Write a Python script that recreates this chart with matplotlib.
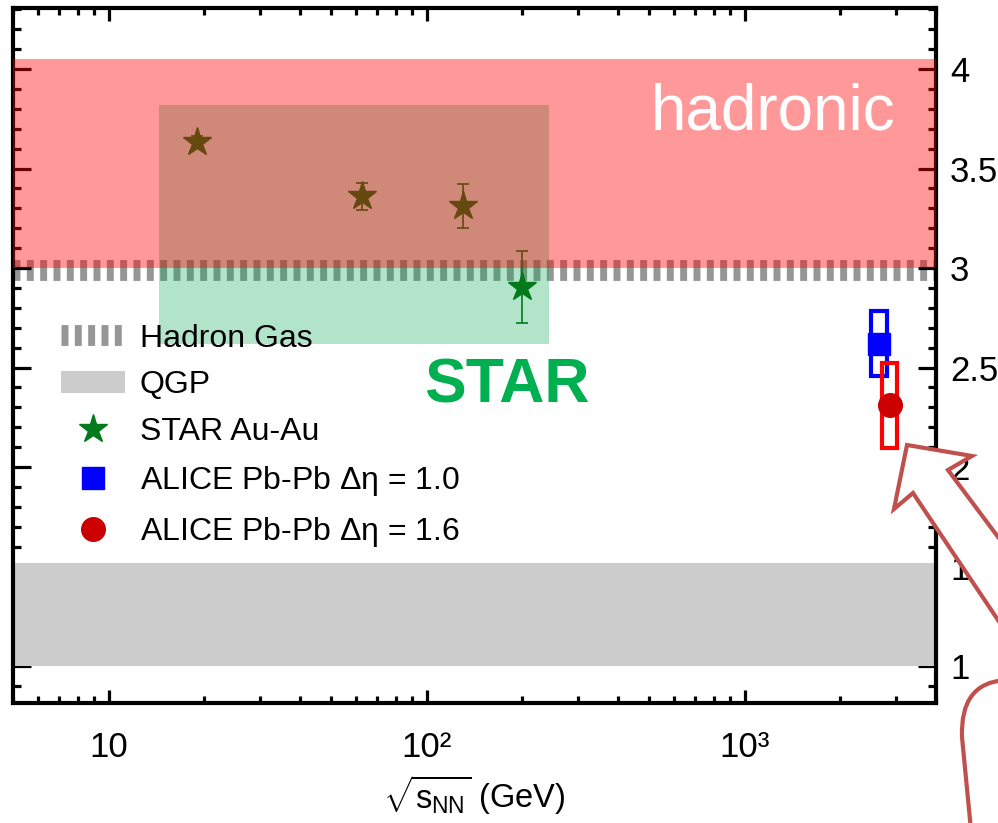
import numpy as np
import matplotlib
matplotlib.use('Agg')
import matplotlib.pyplot as plt
from matplotlib.patches import Rectangle, Polygon, PathPatch, Patch
from matplotlib.lines import Line2D
from matplotlib.path import Path
from matplotlib.ticker import FixedLocator, FixedFormatter, LogLocator, MultipleLocator, FuncFormatter, NullFormatter

plt.rcParams['font.family'] = ['Liberation Sans', 'DejaVu Sans']
plt.rcParams['mathtext.fontset'] = 'custom'
plt.rcParams['mathtext.rm'] = 'Liberation Sans'
plt.rcParams['mathtext.it'] = 'Liberation Sans'
plt.rcParams['mathtext.bf'] = 'Liberation Sans:bold'
plt.rcParams['lines.scale_dashes'] = False

# STAR Au-Au points
star_energy = [19.0, 62.4, 130, 200]
star_value = [3.635, 3.36, 3.31, 2.905]
star_err = [0.03, 0.067, 0.11, 0.183]

# ALICE Pb-Pb at 2.76 TeV (the two points are drawn slightly apart)
alice_energy = [2650, 2860]
alice_value = [2.62, 2.31]
alice_sys = [0.165, 0.215]
alice_labels = [r'ALICE Pb-Pb $\Delta\eta$ = 1.0', r'ALICE Pb-Pb $\Delta\eta$ = 1.6']
alice_marker_colors = ['#0000ff', '#cc0000']
alice_box_colors = ['#0000ff', '#ff0000']
alice_markers = ['s', 'o']
alice_marker_sizes = [16.5, 17]

# expectations / regions
hadron_gas_level = 2.99
qgp_band = (1.0, 1.52)
hadronic_band = (3.0, 4.05)
star_region_energy = (14.4, 242)
star_region_value = (2.62, 3.82)

x_ticks = [10, 100, 1000]
x_tick_labels = ['10', '10²', '10³']

fig = plt.figure(figsize=(9.98, 8.23), dpi=100)
ax = fig.add_axes([13 / 998, 1 - 703 / 823, 923 / 998, 695 / 823])

# bands
ax.axhspan(*qgp_band, color='#cccccc', lw=0, zorder=2.6)
ax.axhspan(*hadronic_band, color='#ff0000', alpha=0.4, lw=0, zorder=4.5)
ax.axhline(hadron_gas_level, color='#969696', lw=15, dashes=(5, 4.6), zorder=1)
ax.add_patch(Rectangle((star_region_energy[0], star_region_value[0]),
                       star_region_energy[1] - star_region_energy[0],
                       star_region_value[1] - star_region_value[0],
                       facecolor='#00a850', alpha=0.3, lw=0, zorder=2))

# STAR points
star_color = '#007a1a'
ax.errorbar(star_energy, star_value, yerr=star_err, fmt='none', ecolor=star_color,
            elinewidth=1.2, capsize=4, capthick=1.2, zorder=3)
ax.plot(star_energy, star_value, ls='none', marker='*', ms=21, color=star_color, zorder=3.2)

# ALICE points with systematic boxes
box_f = 10 ** 0.0245
for e, v, s, mc, bc, m, ms in zip(alice_energy, alice_value, alice_sys, alice_marker_colors,
                                  alice_box_colors, alice_markers, alice_marker_sizes):
    ax.add_patch(Rectangle((e / box_f, v - s), e * box_f - e / box_f, 2 * s,
                           fill=False, edgecolor=bc, lw=3, zorder=3))
    ax.plot([e], [v], ls='none', marker=m, ms=ms, color=mc, mec=mc, zorder=3.5)

ax.set_xscale('log')
ax.set_xlim(5, 4000)
ax.set_ylim(0.814, 4.307)

ax.xaxis.set_major_locator(FixedLocator(x_ticks))
ax.xaxis.set_major_formatter(FixedFormatter(x_tick_labels))
ax.xaxis.set_minor_locator(LogLocator(base=10, subs=np.arange(2, 10)))
ax.xaxis.set_minor_formatter(NullFormatter())
ax.yaxis.set_major_locator(MultipleLocator(0.5))
ax.yaxis.set_minor_locator(MultipleLocator(0.1))
ax.yaxis.set_major_formatter(FuncFormatter(lambda v, p: '%g' % v))

ax.tick_params(axis='both', which='both', direction='in', width=2.3,
               top=True, bottom=True, left=True, right=True,
               labelleft=False, labelright=True, labelsize=25)
ax.tick_params(axis='x', which='major', length=9.5, pad=20)
ax.tick_params(axis='x', which='minor', length=5)
ax.tick_params(axis='y', which='major', length=13, pad=10)
ax.tick_params(axis='y', which='minor', length=6)
for sp in ax.spines.values():
    sp.set_linewidth(3)
    sp.set_zorder(2.7)

ax.set_xlabel(r'$\sqrt{s_{\mathregular{NN}}}$ (GeV)', fontsize=23.5, labelpad=7)

# region labels
ax.text(0.9556, 0.8245, 'hadronic', transform=ax.transAxes, ha='right', va='baseline',
        fontsize=46, color='white', zorder=6)
ax.text(0.445, 0.4317, 'STAR', transform=ax.transAxes, ha='left', va='baseline',
        fontsize=45, fontweight='bold', color='#00b050', zorder=6)

# legend
handles = [
    Line2D([], [], color='#969696', lw=15, dashes=(5, 4.6)),
    Patch(facecolor='#cccccc', edgecolor='none'),
    Line2D([], [], ls='none', marker='*', ms=21, color=star_color),
]
labels = ['Hadron Gas', 'QGP', 'STAR Au-Au']
for mc, m, ms, lab in zip(alice_marker_colors, alice_markers, alice_marker_sizes, alice_labels):
    handles.append(Line2D([], [], ls='none', marker=m, ms=ms, color=mc))
    labels.append(lab)
ax.legend(handles, labels, loc='upper left', bbox_to_anchor=(0.052, 0.546), frameon=False,
          fontsize=23, handlelength=2.0, handletextpad=0.47, labelspacing=0.53,
          borderpad=0, borderaxespad=0, numpoints=1)

# overlaid callout shapes (drawn in figure pixels)
def px(points):
    return [(x / 998, 1 - y / 823) for x, y in points]

outline = '#c0504d'
arrow_pts = [(907, 445), (972, 456), (948, 470), (1010, 553), (1010, 638),
             (913, 493), (894, 509)]
fig.add_artist(Polygon(px(arrow_pts), closed=True, facecolor='white', edgecolor=outline,
                       lw=3, transform=fig.transFigure, zorder=10))
box_pts = px([(971, 830), (962, 737), (960, 683), (1005, 680)])
box_path = Path(box_pts, [Path.MOVETO, Path.LINETO, Path.CURVE3, Path.CURVE3])
fig.add_artist(PathPatch(box_path, fill=False, edgecolor=outline, lw=3,
                         transform=fig.transFigure, zorder=10))

fig.savefig('out.png', dpi=100)
